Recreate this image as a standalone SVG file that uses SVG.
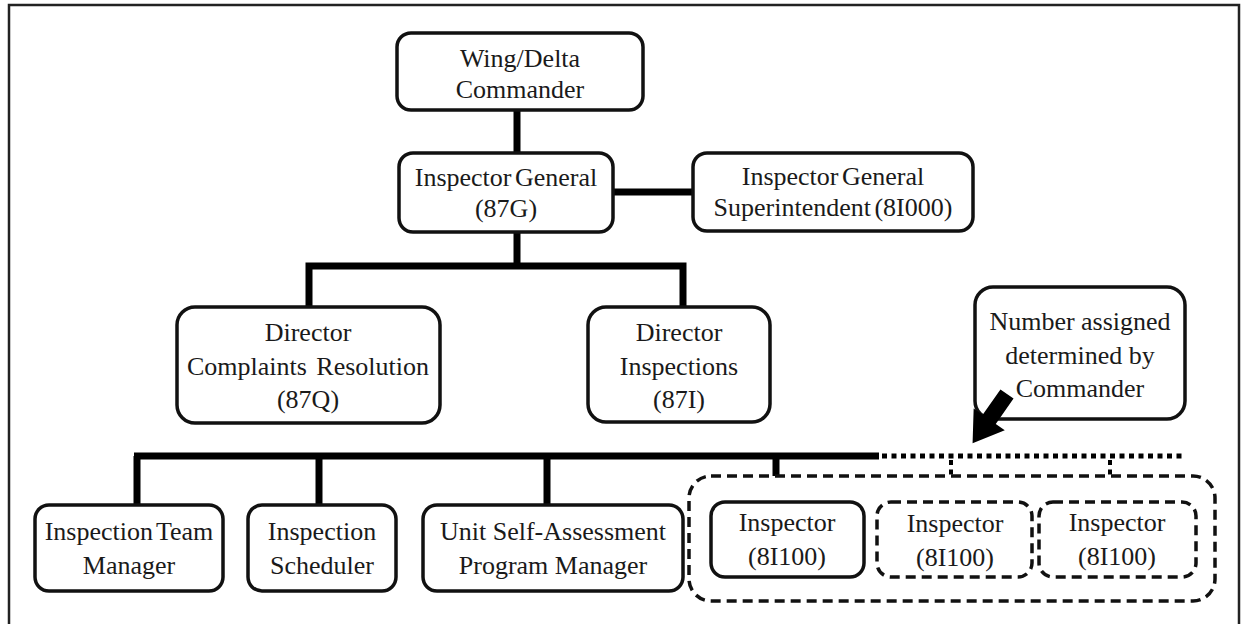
<svg xmlns="http://www.w3.org/2000/svg" width="1241" height="624" viewBox="0 0 1241 624">
<defs>
<style>
.box{fill:#fff;stroke:#111;stroke-width:3.5}
.dbox{fill:#fff;stroke:#111;stroke-width:3.5;stroke-dasharray:10 6}
.t{font-family:"Liberation Serif","Times New Roman",serif;font-size:26px;fill:#1a1a1a;text-anchor:middle}
.ln{stroke:#000;stroke-width:7;fill:none}
.dot{stroke:#000;stroke-width:5;fill:none;stroke-dasharray:5 4.5}
.dotv{stroke:#000;stroke-width:4;fill:none;stroke-dasharray:5 4.5}
</style>
</defs>
<rect x="0" y="0" width="1241" height="624" fill="#fff"/>
<path d="M9,630 V5 H1239 V630" fill="none" stroke="#222" stroke-width="2.5"/>

<g id="connectors">
<line class="ln" x1="517" y1="110" x2="517" y2="153"/>
<line class="ln" x1="613" y1="192" x2="693" y2="192"/>
<line class="ln" x1="517" y1="232" x2="517" y2="266"/>
<polyline class="ln" points="309,307 309,266 683,266 683,307"/>
<line class="ln" x1="134" y1="456" x2="879" y2="456"/>
<line class="ln" x1="137" y1="456" x2="137" y2="505"/>
<line class="ln" x1="319" y1="456" x2="319" y2="505"/>
<line class="ln" x1="547" y1="456" x2="547" y2="505"/>
<line class="ln" x1="776" y1="456" x2="776" y2="502"/>
<line class="dot" x1="882" y1="456" x2="1182" y2="456"/>
<line class="dotv" x1="951" y1="460" x2="951" y2="501"/>
<line class="dotv" x1="1110" y1="460" x2="1110" y2="501"/>
</g>

<g id="wing-delta-commander">
<rect class="box" x="397" y="33" width="246" height="77" rx="14"/>
<text class="t" x="520" y="67">Wing/Delta</text>
<text class="t" x="520" y="98">Commander</text>
</g>

<g id="inspector-general">
<rect class="box" x="399" y="153" width="214" height="79" rx="14"/>
<text class="t" x="506" y="186" word-spacing="-3">Inspector General</text>
<text class="t" x="506" y="217">(87G)</text>
</g>

<g id="ig-superintendent">
<rect class="box" x="693" y="153" width="280" height="78" rx="14"/>
<text class="t" x="833" y="185" word-spacing="-3">Inspector General</text>
<text class="t" x="833" y="216" word-spacing="-3">Superintendent (8I000)</text>
</g>

<g id="director-complaints">
<rect class="box" x="177" y="307" width="263" height="116" rx="18"/>
<text class="t" x="308" y="341">Director</text>
<text class="t" x="308" y="375" word-spacing="3">Complaints Resolution</text>
<text class="t" x="308" y="408">(87Q)</text>
</g>

<g id="director-inspections">
<rect class="box" x="588" y="307" width="182" height="115" rx="18"/>
<text class="t" x="679" y="341">Director</text>
<text class="t" x="679" y="375">Inspections</text>
<text class="t" x="679" y="408">(87I)</text>
</g>

<g id="callout">
<rect class="box" x="975" y="287" width="210" height="132" rx="18"/>
<text class="t" x="1080" y="330">Number assigned</text>
<text class="t" x="1080" y="364">determined by</text>
<text class="t" x="1080" y="397">Commander</text>
<polygon fill="#000" points="0,-8 31,-8 31,-19 60,0 31,19 31,8 0,8" transform="translate(1007,394) rotate(125)"/>
</g>

<g id="inspection-team-manager">
<rect class="box" x="35" y="505" width="188" height="86" rx="14"/>
<text class="t" x="129" y="540" word-spacing="-3">Inspection Team</text>
<text class="t" x="129" y="574">Manager</text>
</g>

<g id="inspection-scheduler">
<rect class="box" x="248" y="505" width="148" height="86" rx="14"/>
<text class="t" x="322" y="540">Inspection</text>
<text class="t" x="322" y="574">Scheduler</text>
</g>

<g id="usa-program-manager">
<rect class="box" x="423" y="505" width="260" height="86" rx="14"/>
<text class="t" x="553" y="540">Unit Self-Assessment</text>
<text class="t" x="553" y="574">Program Manager</text>
</g>

<g id="inspector-group">
<rect class="dbox" x="689" y="476" width="526" height="125" rx="22"/>
</g>

<g id="inspector-1">
<rect class="box" x="711" y="502" width="153" height="75" rx="14"/>
<text class="t" x="787" y="531">Inspector</text>
<text class="t" x="787" y="565">(8I100)</text>
</g>

<g id="inspector-2">
<rect class="dbox" x="877" y="502" width="155" height="75" rx="14"/>
<text class="t" x="955" y="532">Inspector</text>
<text class="t" x="955" y="566">(8I100)</text>
</g>

<g id="inspector-3">
<rect class="dbox" x="1039" y="502" width="157" height="75" rx="14"/>
<text class="t" x="1117" y="531">Inspector</text>
<text class="t" x="1117" y="565">(8I100)</text>
</g>
</svg>
